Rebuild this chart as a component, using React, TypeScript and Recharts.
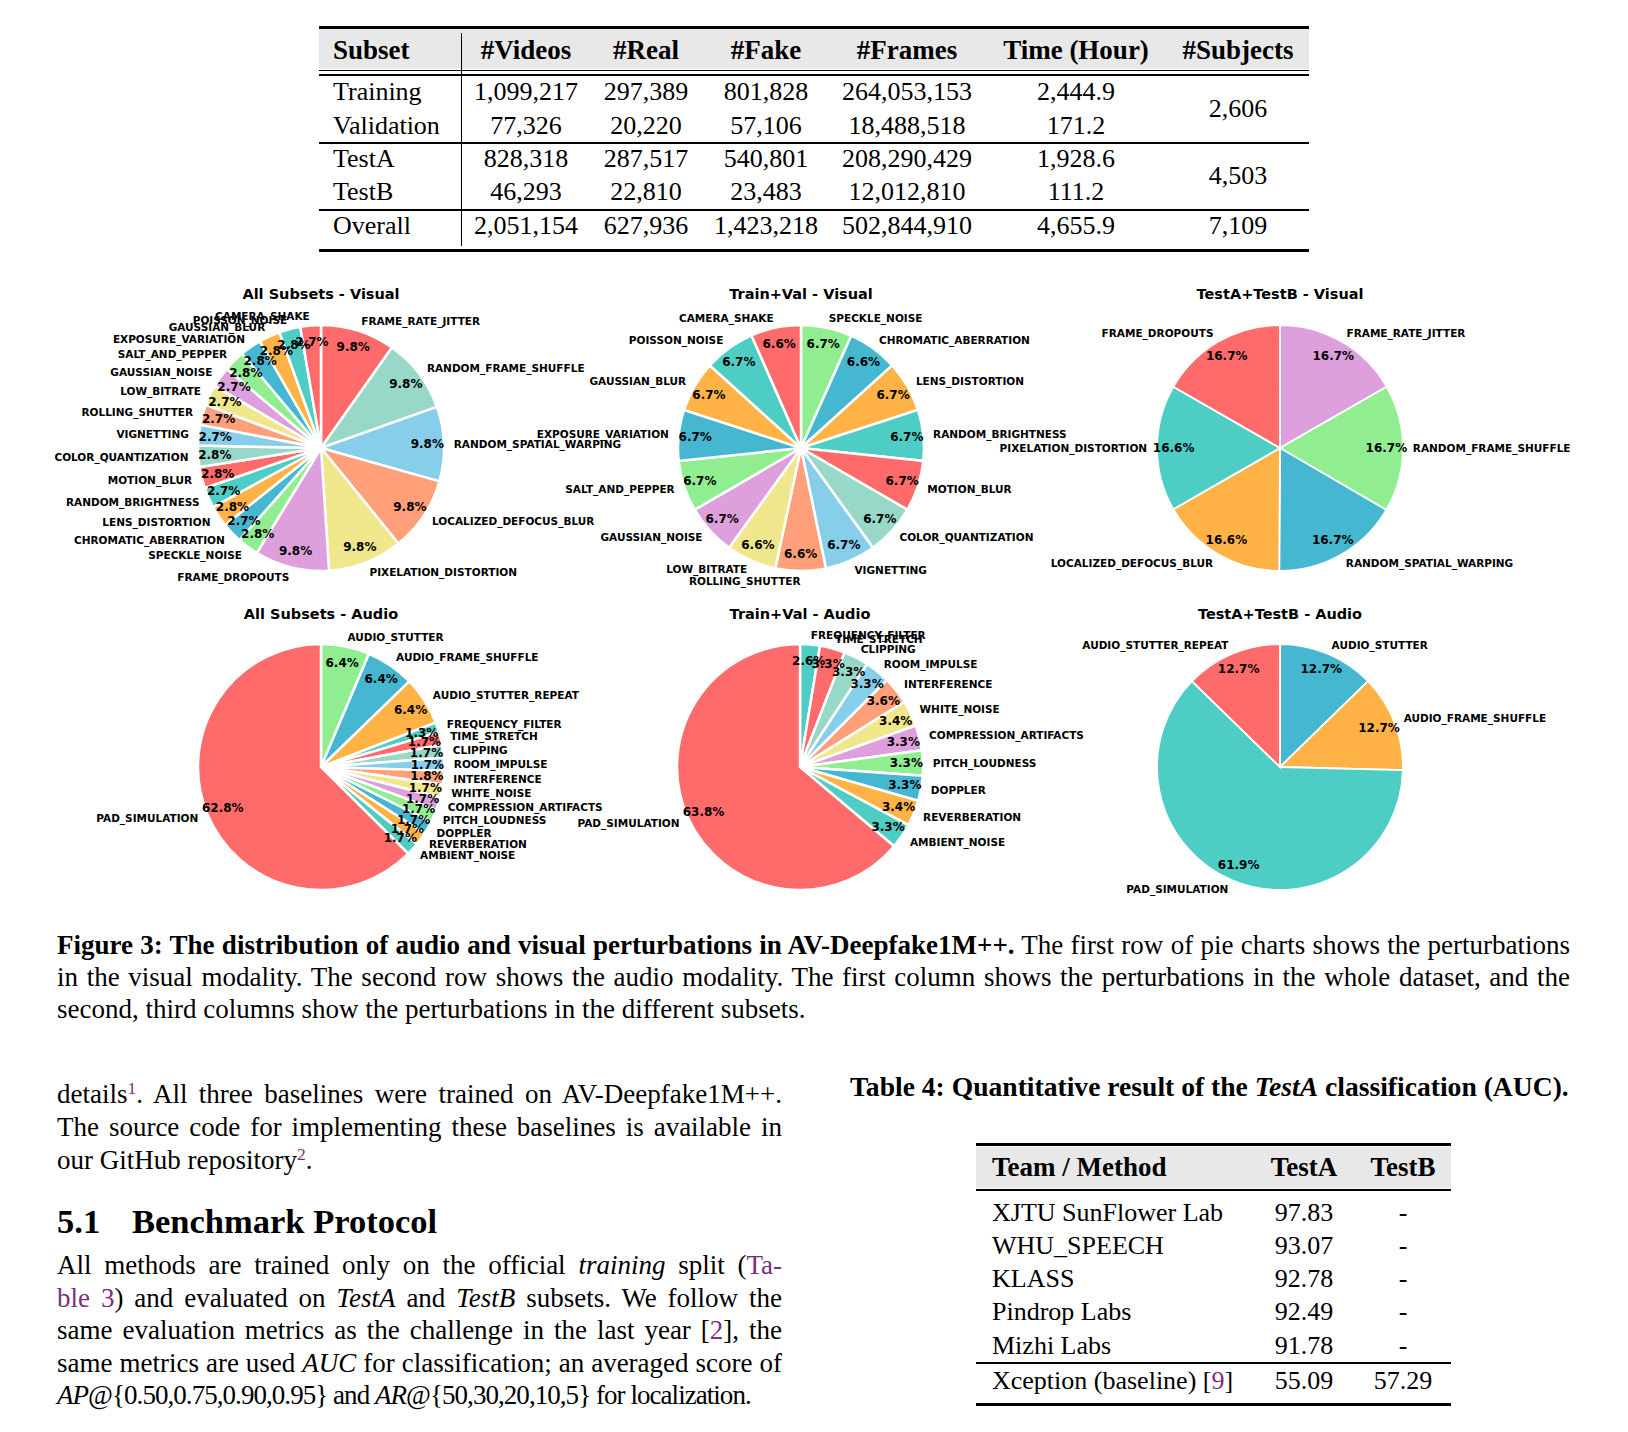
import React from 'react';
import { PieChart, Pie, Cell } from 'recharts';

// ---------- palette ----------
const PALETTE = ['#FF6B6B', '#98D8C8', '#87CEEB', '#FFA07A', '#F0E68C', '#DDA0DD', '#90EE90', '#45B7D1', '#FFB347', '#4ECDC4'];
const PURPLE = '#7A2E82';

// ---------- pie data (clockwise from 12 o'clock) ----------
const allVisualNames = ['FRAME_RATE_JITTER', 'RANDOM_FRAME_SHUFFLE', 'RANDOM_SPATIAL_WARPING', 'LOCALIZED_DEFOCUS_BLUR', 'PIXELATION_DISTORTION', 'FRAME_DROPOUTS', 'SPECKLE_NOISE', 'CHROMATIC_ABERRATION', 'LENS_DISTORTION', 'RANDOM_BRIGHTNESS', 'MOTION_BLUR', 'COLOR_QUANTIZATION', 'VIGNETTING', 'ROLLING_SHUTTER', 'LOW_BITRATE', 'GAUSSIAN_NOISE', 'SALT_AND_PEPPER', 'EXPOSURE_VARIATION', 'GAUSSIAN_BLUR', 'POISSON_NOISE', 'CAMERA_SHAKE'];
const allVisualValues = [9.8, 9.8, 9.8, 9.8, 9.8, 9.8, 2.8, 2.7, 2.8, 2.7, 2.8, 2.8, 2.7, 2.7, 2.7, 2.7, 2.8, 2.8, 2.8, 2.8, 2.7];

const tvVisualNames = ['SPECKLE_NOISE', 'CHROMATIC_ABERRATION', 'LENS_DISTORTION', 'RANDOM_BRIGHTNESS', 'MOTION_BLUR', 'COLOR_QUANTIZATION', 'VIGNETTING', 'ROLLING_SHUTTER', 'LOW_BITRATE', 'GAUSSIAN_NOISE', 'SALT_AND_PEPPER', 'EXPOSURE_VARIATION', 'GAUSSIAN_BLUR', 'POISSON_NOISE', 'CAMERA_SHAKE'];
const tvVisualValues = [6.7, 6.6, 6.7, 6.7, 6.7, 6.7, 6.7, 6.6, 6.6, 6.7, 6.7, 6.7, 6.7, 6.7, 6.6];

const testVisualNames = ['FRAME_RATE_JITTER', 'RANDOM_FRAME_SHUFFLE', 'RANDOM_SPATIAL_WARPING', 'LOCALIZED_DEFOCUS_BLUR', 'PIXELATION_DISTORTION', 'FRAME_DROPOUTS'];
const testVisualValues = [16.7, 16.7, 16.7, 16.6, 16.6, 16.7];

const allAudioNames = ['AUDIO_STUTTER', 'AUDIO_FRAME_SHUFFLE', 'AUDIO_STUTTER_REPEAT', 'FREQUENCY_FILTER', 'TIME_STRETCH', 'CLIPPING', 'ROOM_IMPULSE', 'INTERFERENCE', 'WHITE_NOISE', 'COMPRESSION_ARTIFACTS', 'PITCH_LOUDNESS', 'DOPPLER', 'REVERBERATION', 'AMBIENT_NOISE', 'PAD_SIMULATION'];
const allAudioValues = [6.4, 6.4, 6.4, 1.3, 1.7, 1.7, 1.7, 1.8, 1.7, 1.7, 1.7, 1.7, 1.7, 1.7, 62.8];

const tvAudioNames = ['FREQUENCY_FILTER', 'TIME_STRETCH', 'CLIPPING', 'ROOM_IMPULSE', 'INTERFERENCE', 'WHITE_NOISE', 'COMPRESSION_ARTIFACTS', 'PITCH_LOUDNESS', 'DOPPLER', 'REVERBERATION', 'AMBIENT_NOISE', 'PAD_SIMULATION'];
const tvAudioValues = [2.6, 3.3, 3.3, 3.3, 3.6, 3.4, 3.3, 3.3, 3.3, 3.4, 3.3, 63.8];

const testAudioNames = ['AUDIO_STUTTER', 'AUDIO_FRAME_SHUFFLE', 'PAD_SIMULATION', 'AUDIO_STUTTER_REPEAT'];
const testAudioValues = [12.7, 12.7, 61.9, 12.7];

// ---------- table 1 ----------
const t1Headers = ['Subset', '#Videos', '#Real', '#Fake', '#Frames', 'Time (Hour)', '#Subjects'];
const t1Subsets = ['Training', 'Validation', 'TestA', 'TestB', 'Overall'];
const t1Videos = ['1,099,217', '77,326', '828,318', '46,293', '2,051,154'];
const t1Real = ['297,389', '20,220', '287,517', '22,810', '627,936'];
const t1Fake = ['801,828', '57,106', '540,801', '23,483', '1,423,218'];
const t1Frames = ['264,053,153', '18,488,518', '208,290,429', '12,012,810', '502,844,910'];
const t1Time = ['2,444.9', '171.2', '1,928.6', '111.2', '4,655.9'];
const t1Subjects = ['2,606', '4,503', '7,109'];

// ---------- table 4 ----------
const t4Headers = ['Team / Method', 'TestA', 'TestB'];
const t4Teams = ['XJTU SunFlower Lab', 'WHU_SPEECH', 'KLASS', 'Pindrop Labs', 'Mizhi Labs', 'Xception (baseline) ['];
const t4TestA = ['97.83', '93.07', '92.78', '92.49', '91.78', '55.09'];
const t4TestB = ['-', '-', '-', '-', '-', '57.29'];

const SERIF = '"Liberation Serif", "Times New Roman", serif';
const PIE_FONT = '"DejaVu Sans", sans-serif';

// ---------- helpers ----------
const Txt = ({ x, y, anchor = 'start', children, style }: any) => {
  const tx = anchor === 'middle' ? '-50%' : anchor === 'end' ? '-100%' : '0';
  return (
    <div
      style={{
        position: 'absolute', left: x, top: y, transform: `translate(${tx}, -50%)`,
        whiteSpace: 'nowrap', lineHeight: 1, fontFamily: SERIF, fontSize: 26, color: '#000', ...style,
      }}
    >
      {children}
    </div>
  );
};

const JLine = ({ x, y, w, last = false, children, style }: any) => (
  <div
    style={{
      position: 'absolute', left: x, top: y, width: w, transform: 'translateY(-50%)',
      lineHeight: 1, fontFamily: SERIF, fontSize: 27, color: '#000',
      whiteSpace: last ? 'nowrap' : 'normal',
      textAlign: last ? 'left' : 'justify', textAlignLast: last ? 'left' : 'justify', ...style,
    } as any}
  >
    {children}
  </div>
);

const Rule = ({ x, y, w, h }: any) => (
  <div style={{ position: 'absolute', left: x, top: y - h / 2, width: w, height: h, background: '#000' }} />
);

const P = ({ children }: any) => <span style={{ color: PURPLE }}>{children}</span>;

function makeLabel(fontLabel: number, fontPct: number) {
  return (p: any) => {
    const RAD = Math.PI / 180;
    const cos = Math.cos(-p.midAngle * RAD);
    const sin = Math.sin(-p.midAngle * RAD);
    const lr = p.outerRadius * 1.08;
    const pr = p.outerRadius * 0.865;
    const name = p.name ?? p.payload?.name;
    const value = p.value ?? p.payload?.value;
    return (
      <g key={`lab-${p.index}`}>
        <text x={p.cx + lr * cos} y={p.cy + lr * sin} textAnchor={cos >= 0 ? 'start' : 'end'} dominantBaseline="central"
          fontFamily={PIE_FONT} fontWeight="bold" fontSize={fontLabel} fill="#000">{name}</text>
        <text x={p.cx + pr * cos} y={p.cy + pr * sin} textAnchor="middle" dominantBaseline="central"
          fontFamily={PIE_FONT} fontWeight="bold" fontSize={fontPct} fill="#000">{Number(value).toFixed(1)}%</text>
      </g>
    );
  };
}

const labelRenderer = makeLabel(10.5, 12);

const PieBlock = ({ title, names, values, colorStart, cx, cy, titleY, strokeW }: any) => {
  const data = names.map((n: string, i: number) => ({ name: n, value: values[i] }));
  const W = 640, H = 340, CX = 320, CY = 170, R = 123;
  return (
    <>
      <div style={{ position: 'absolute', left: cx - CX, top: cy - CY, width: W, height: H }}>
        <PieChart width={W} height={H} margin={{ top: 0, right: 0, bottom: 0, left: 0 }}>
          <Pie data={data} dataKey="value" nameKey="name" cx={CX} cy={CY} outerRadius={R} innerRadius={0}
            startAngle={90} endAngle={-270} isAnimationActive={false} labelLine={false} label={labelRenderer}
            stroke="#ffffff" strokeWidth={strokeW}>
            {data.map((d: any, i: number) => <Cell key={d.name + i} fill={PALETTE[(colorStart + i) % PALETTE.length]} />)}
          </Pie>
        </PieChart>
      </div>
      <div style={{ position: 'absolute', left: cx, top: titleY, transform: 'translate(-50%, -50%)', whiteSpace: 'nowrap',
        fontFamily: PIE_FONT, fontWeight: 'bold', fontSize: 14.5, lineHeight: 1, color: '#000' }}>{title}</div>
    </>
  );
};

export default function App() {
  // table 1 geometry
  const t1Left = 319, t1Right = 1309;
  const t1RowY = [92, 126, 159, 192, 226];
  const t1ColX = [526, 646, 766, 907, 1076, 1238];
  const t1Cols = [t1Videos, t1Real, t1Fake, t1Frames, t1Time];
  const t1SubjY = [109, 176, 226];

  // table 4 geometry
  const t4Left = 976, t4Right = 1451;
  const t4RowY = [1213, 1246, 1279, 1312, 1346, 1381];

  return (
    <div style={{ position: 'absolute', left: 0, top: 0, width: 1628, height: 1432, background: '#fff', overflow: 'hidden' }}>
      {/* ---------- Table 1 ---------- */}
      <div style={{ position: 'absolute', left: t1Left, top: 29, width: t1Right - t1Left, height: 40, background: '#e8e8e8' }} />
      <Rule x={t1Left} y={27.5} w={t1Right - t1Left} h={3} />
      <Rule x={t1Left} y={70.5} w={t1Right - t1Left} h={1.2} />
      <Rule x={t1Left} y={75} w={t1Right - t1Left} h={1.2} />
      <Rule x={t1Left} y={143} w={t1Right - t1Left} h={1.2} />
      <Rule x={t1Left} y={210} w={t1Right - t1Left} h={1.2} />
      <Rule x={t1Left} y={250} w={t1Right - t1Left} h={3} />
      <div style={{ position: 'absolute', left: 460.5, top: 33, width: 1.2, height: 213, background: '#000' }} />
      <Txt x={333} y={50} style={{ fontWeight: 'bold', fontSize: 27 }}>{t1Headers[0]}</Txt>
      {t1Headers.slice(1).map((h, i) => (
        <Txt key={h} x={t1ColX[i]} y={50} anchor="middle" style={{ fontWeight: 'bold', fontSize: 27 }}>{h}</Txt>
      ))}
      {t1Subsets.map((s, r) => (
        <Txt key={s} x={333} y={t1RowY[r]}>{s}</Txt>
      ))}
      {t1Cols.map((col, c) => col.map((v, r) => (
        <Txt key={c + '-' + r} x={t1ColX[c]} y={t1RowY[r]} anchor="middle">{v}</Txt>
      )))}
      {t1Subjects.map((v, i) => (
        <Txt key={'s' + i} x={t1ColX[5]} y={t1SubjY[i]} anchor="middle">{v}</Txt>
      ))}

      {/* ---------- Pie charts ---------- */}
      <PieBlock title="All Subsets - Visual" names={allVisualNames} values={allVisualValues} colorStart={0} cx={321} cy={448} titleY={294} strokeW={2.5} />
      <PieBlock title="Train+Val - Visual" names={tvVisualNames} values={tvVisualValues} colorStart={6} cx={801} cy={448} titleY={294} strokeW={2.5} />
      <PieBlock title="TestA+TestB - Visual" names={testVisualNames} values={testVisualValues} colorStart={5} cx={1280} cy={448} titleY={294} strokeW={1.8} />
      <PieBlock title="All Subsets - Audio" names={allAudioNames} values={allAudioValues} colorStart={6} cx={321} cy={767} titleY={614} strokeW={2.5} />
      <PieBlock title="Train+Val - Audio" names={tvAudioNames} values={tvAudioValues} colorStart={9} cx={800} cy={767} titleY={614} strokeW={2.5} />
      <PieBlock title="TestA+TestB - Audio" names={testAudioNames} values={testAudioValues} colorStart={7} cx={1280} cy={767} titleY={614} strokeW={1.8} />

      {/* ---------- Figure caption ---------- */}
      <JLine x={57} y={945} w={1513}>
        <b>Figure 3: The distribution of audio and visual perturbations in AV-Deepfake1M++.</b> The first row of pie charts shows the perturbations
      </JLine>
      <JLine x={57} y={977} w={1513}>
        in the visual modality. The second row shows the audio modality. The first column shows the perturbations in the whole dataset, and the
      </JLine>
      <JLine x={57} y={1009} w={1513} last>
        second, third columns show the perturbations in the different subsets.
      </JLine>

      {/* ---------- Left column text ---------- */}
      <JLine x={57} y={1094} w={725}>
        details<span style={{ color: PURPLE, fontSize: '0.65em', verticalAlign: '0.55em' }}>1</span>. All three baselines were trained on AV-Deepfake1M++.
      </JLine>
      <JLine x={57} y={1127} w={725}>
        The source code for implementing these baselines is available in
      </JLine>
      <JLine x={57} y={1160} w={725} last>
        our GitHub repository<span style={{ color: PURPLE, fontSize: '0.65em', verticalAlign: '0.55em' }}>2</span>.
      </JLine>
      <Txt x={57} y={1221} style={{ fontWeight: 'bold', fontSize: 34.5 }}>5.1</Txt>
      <Txt x={132} y={1221} style={{ fontWeight: 'bold', fontSize: 34.5 }}>Benchmark Protocol</Txt>
      <JLine x={57} y={1265} w={725}>
        All methods are trained only on the official <i>training</i> split (<P>Ta-</P>
      </JLine>
      <JLine x={57} y={1298} w={725}>
        <P>ble 3</P>) and evaluated on <i>TestA</i> and <i>TestB</i> subsets. We follow the
      </JLine>
      <JLine x={57} y={1330} w={725}>
        same evaluation metrics as the challenge in the last year [<P>2</P>], the
      </JLine>
      <JLine x={57} y={1363} w={725}>
        same metrics are used <i>AUC</i> for classification; an averaged score of
      </JLine>
      <JLine x={57} y={1395} w={725} last style={{ letterSpacing: '-0.95px' }}>
        <i>AP</i>@{'{'}0.50,0.75,0.90,0.95{'}'} and <i>AR</i>@{'{'}50,30,20,10,5{'}'} for localization.
      </JLine>

      {/* ---------- Table 4 ---------- */}
      <Txt x={850} y={1087} style={{ fontWeight: 'bold', fontSize: 27.6 }}>
        Table 4: Quantitative result of the <i>TestA</i> classification (AUC).
      </Txt>
      <div style={{ position: 'absolute', left: t4Left, top: 1147, width: t4Right - t4Left, height: 41, background: '#e8e8e8' }} />
      <Rule x={t4Left} y={1144.5} w={t4Right - t4Left} h={3} />
      <Rule x={t4Left} y={1190} w={t4Right - t4Left} h={1.4} />
      <Rule x={t4Left} y={1363} w={t4Right - t4Left} h={1.4} />
      <Rule x={t4Left} y={1404} w={t4Right - t4Left} h={3} />
      <Txt x={992} y={1167} style={{ fontWeight: 'bold', fontSize: 27 }}>{t4Headers[0]}</Txt>
      <Txt x={1304} y={1167} anchor="middle" style={{ fontWeight: 'bold', fontSize: 27 }}>{t4Headers[1]}</Txt>
      <Txt x={1403} y={1167} anchor="middle" style={{ fontWeight: 'bold', fontSize: 27 }}>{t4Headers[2]}</Txt>
      {t4Teams.map((t, i) => (
        <Txt key={t} x={992} y={t4RowY[i]}>
          {i === t4Teams.length - 1 ? <>{t}<P>9</P>]</> : t}
        </Txt>
      ))}
      {t4TestA.map((v, i) => (
        <Txt key={'a' + i} x={1304} y={t4RowY[i]} anchor="middle">{v}</Txt>
      ))}
      {t4TestB.map((v, i) => (
        <Txt key={'b' + i} x={1403} y={t4RowY[i]} anchor="middle">{v}</Txt>
      ))}
    </div>
  );
}
